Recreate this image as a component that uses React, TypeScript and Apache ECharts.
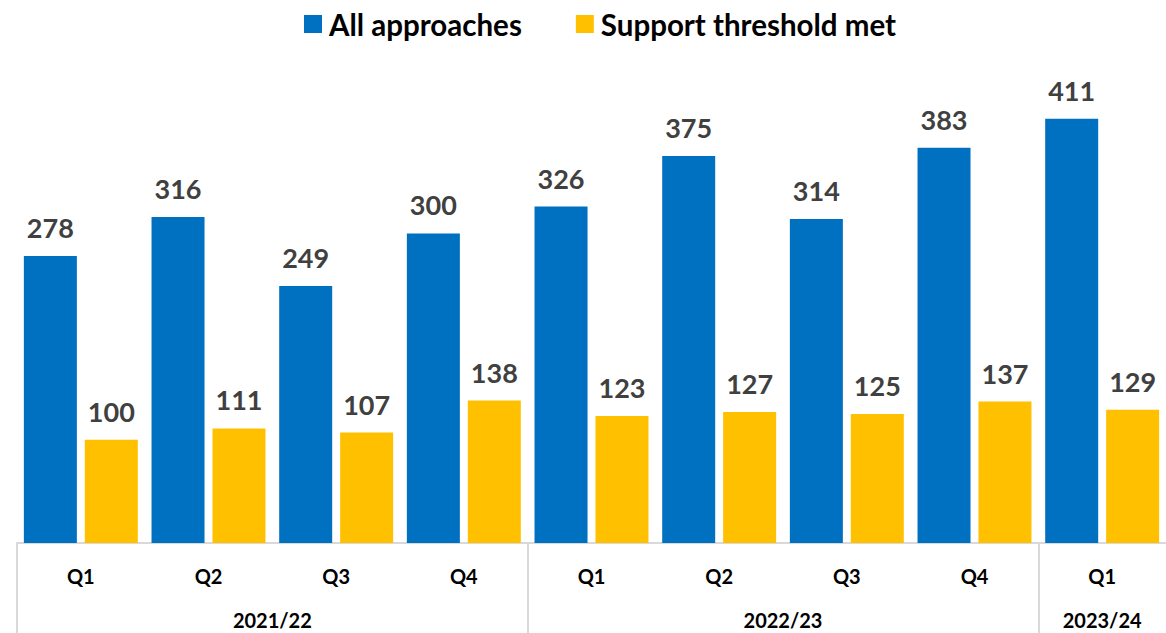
import React, { useEffect, useRef } from "react";
import * as echarts from "echarts";

const quarters = ["Q1", "Q2", "Q3", "Q4", "Q1", "Q2", "Q3", "Q4", "Q1"];
const allApproaches = [278, 316, 249, 300, 326, 375, 314, 383, 411];
const supportThresholdMet = [100, 111, 107, 138, 123, 127, 125, 137, 129];
const yearLabels = ["2021/22", "2022/23", "2023/24"];
const yearCenters = [2, 6, 8.5];
const yearBoundaries = [0, 4, 8];

const FONT = "Lato, 'Open Sans', sans-serif";

export default function App() {
  const ref = useRef<HTMLDivElement>(null);
  useEffect(() => {
    if (!ref.current) return;
    const chart = echarts.init(ref.current, null, { renderer: "svg" });
    const labelStyle = {
      show: true,
      position: "top",
      distance: 15,
      fontSize: 27,
      fontWeight: "bold",
      color: "#404040",
      fontFamily: FONT,
    };
    chart.setOption({
      animation: false,
      textStyle: { fontFamily: FONT },
      legend: {
        top: 4,
        left: 299,
        itemWidth: 18,
        itemHeight: 18,
        itemGap: 54,
        icon: "rect",
        textStyle: { fontSize: 29.5, fontWeight: "bold", color: "#000", fontFamily: FONT, padding: [0, 0, 0, 2] },
        data: ["All approaches", "Support threshold met"],
      },
      grid: { left: 17, right: 0, top: 27, bottom: 90, containLabel: false },
      xAxis: [
        {
          type: "category",
          data: quarters,
          axisLine: { show: true, lineStyle: { color: "#d9d9d9", width: 2 } },
          axisTick: { show: false },
          axisLabel: {
            margin: 23,
            fontSize: 20,
            fontWeight: "bold",
            color: "#000",
            fontFamily: FONT,
          },
        },
        {
          type: "value",
          position: "bottom",
          min: 0,
          max: 9,
          axisLine: { show: false },
          splitLine: { show: false },
          axisTick: {
            show: true,
            inside: false,
            length: 92,
            customValues: yearBoundaries,
            lineStyle: { color: "#d9d9d9", width: 2 },
          },
          axisLabel: {
            show: true,
            customValues: yearCenters,
            margin: 67,
            fontSize: 20,
            fontWeight: "bold",
            color: "#000",
            fontFamily: FONT,
            formatter: (v: number) => {
              const i = yearCenters.indexOf(v);
              return i >= 0 ? yearLabels[i] : "";
            },
          },
        },
      ],
      yAxis: {
        type: "value",
        min: 0,
        max: 500,
        show: false,
        splitLine: { show: false },
      },
      series: [
        {
          name: "All approaches",
          type: "bar",
          data: allApproaches,
          xAxisIndex: 0,
          barWidth: 53,
          barGap: "15%",
          itemStyle: { color: "#0070C0" },
          label: labelStyle,
        },
        {
          name: "Support threshold met",
          type: "bar",
          data: supportThresholdMet,
          xAxisIndex: 0,
          barWidth: 53,
          barGap: "15%",
          itemStyle: { color: "#FFC000" },
          label: labelStyle,
        },
      ],
    });
    return () => chart.dispose();
  }, []);
  return (
    <div
      ref={ref}
      style={{ position: "fixed", left: 0, top: 0, width: 1166, height: 633, background: "#fff" }}
    />
  );
}
